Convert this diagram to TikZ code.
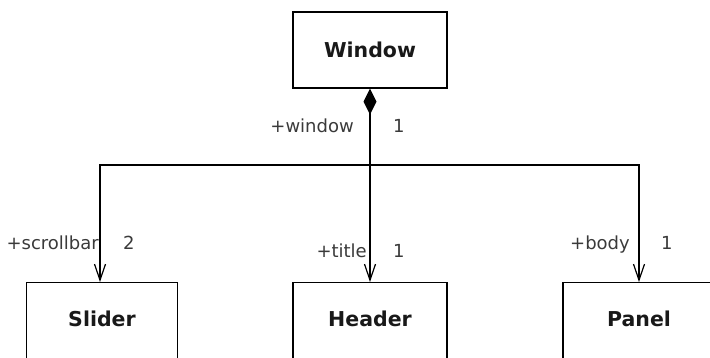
\documentclass[tikz,border=0pt]{standalone}
\usepackage{fontspec}
\setmainfont{DejaVu Sans}
\usetikzlibrary{arrows.meta}
\definecolor{lbl}{HTML}{3A3A3A}
\tikzset{
  boxtext/.style={font=\fontsize{20.5}{24}\selectfont\bfseries, text=black!90, inner sep=0pt},
  classbox/.style={draw=black, line width=1.2pt, minimum width=154pt, minimum height=76pt,
    inner sep=0pt, boxtext},
  lowbox/.style={draw=black, line width=1.2pt, minimum width=154pt, minimum height=100pt,
    inner sep=0pt, anchor=north},
  rolelbl/.style={inner sep=0pt, font=\fontsize{18}{21}\selectfont, text=lbl},
  conn/.style={line width=1.2pt, draw=black},
  navarrow/.style={-{Straight Barb[length=16pt,width=11pt,line width=1.2pt]}},
}
\begin{document}
\begin{tikzpicture}[x=1pt,y=-1pt]
\useasboundingbox (0,0) rectangle (710,358);
\clip (0,0) rectangle (710,358);
\node[classbox] (win) at (370,50) {Window};
\node[lowbox, minimum width=151pt, label={[boxtext, yshift=14pt]center:Slider}] (sld) at (102,282) {};
\node[lowbox, label={[boxtext, yshift=14pt]center:Header}] (hdr) at (370,282) {};
\node[lowbox, minimum width=152pt, label={[boxtext, yshift=14pt]center:Panel}] (pnl) at (639,282) {};
\coordinate (junc) at (370,165);
\coordinate (sldtop) at (100,282);
\draw[conn, {Diamond[length=26pt,width=13pt]}-{Straight Barb[length=16pt,width=11pt,line width=1.2pt]}] (win.south) -- (hdr.north);
\draw[conn, navarrow] (junc) -| (sldtop);
\draw[conn, navarrow] (junc) -| (pnl.north);
\node[rolelbl, anchor=base east] (l1) at (354,133) {+window};
\node[rolelbl, anchor=base west] (m1) at (393,133) {1};
\node[rolelbl, anchor=base east] (l2) at (99,250) {+scrollbar};
\node[rolelbl, anchor=base west] (m2) at (123,250) {2};
\node[rolelbl, anchor=base east] (l3) at (367,258) {+title};
\node[rolelbl, anchor=base west] (m3) at (393,258) {1};
\node[rolelbl, anchor=base east] (l4) at (630,250) {+body};
\node[rolelbl, anchor=base west] (m4) at (661,250) {1};
\end{tikzpicture}
\end{document}
